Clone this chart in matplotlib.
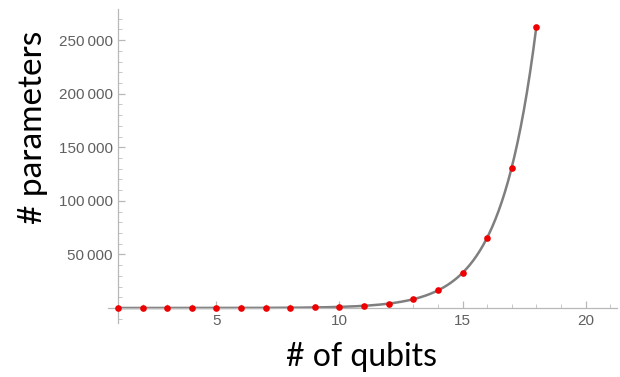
import numpy as np
import matplotlib
matplotlib.use("Agg")
import matplotlib.pyplot as plt
from matplotlib.ticker import FixedLocator, MultipleLocator, FuncFormatter

# Data
qubits = [1, 2, 3, 4, 5, 6, 7, 8, 9, 10, 11, 12, 13, 14, 15, 16, 17, 18]
params = [2, 4, 8, 16, 32, 64, 128, 256, 512, 1024, 2048, 4096, 8192,
          16384, 32768, 65536, 131072, 262144]
x_ticks = [5, 10, 15, 20]
y_ticks = [50000, 100000, 150000, 200000, 250000]

fig = plt.figure(figsize=(6.2, 3.77), dpi=100)
ax = fig.add_axes([108/620, 1-323/377, (617-108)/620, (323-9)/377])

# smooth curve through the points (geometric interpolation between data)
xs = np.linspace(qubits[0], qubits[-1], 400)
ys = np.exp(np.interp(xs, qubits, np.log(params)))
ax.plot(xs, ys, color="#7f7f7f", lw=1.8, zorder=2, solid_capstyle="round")
ax.plot(qubits, params, "o", color="#ee0000", ms=4.8, mec="none", zorder=3)

ax.set_xlim(0.59, 21.28)
ax.set_ylim(-14000, 279000)

for s in ["top", "right"]:
    ax.spines[s].set_visible(False)
ax.spines["left"].set_position(("data", 1))
ax.spines["bottom"].set_position(("data", 0))
for s in ["left", "bottom"]:
    ax.spines[s].set_color("#b8b8b8")
    ax.spines[s].set_linewidth(0.9)

ax.xaxis.set_major_locator(FixedLocator(x_ticks))
ax.xaxis.set_minor_locator(MultipleLocator(1))
ax.yaxis.set_major_locator(FixedLocator(y_ticks))
ax.yaxis.set_minor_locator(MultipleLocator(10000))
ax.yaxis.set_major_formatter(FuncFormatter(
    lambda v, p: f"{int(v):,}".replace(",", "\u2009")))

ax.tick_params(axis="both", which="major", direction="in", length=5,
               width=0.9, color="#b8b8b8", labelcolor="#606060",
               labelsize=11)
ax.tick_params(axis="both", which="minor", direction="in", length=3,
               width=0.7, color="#c8c8c8")
ax.tick_params(axis="x", which="major", pad=4)
ax.tick_params(axis="y", which="major", pad=4)
for lab in ax.get_xticklabels() + ax.get_yticklabels():
    lab.set_family(["Liberation Sans", "DejaVu Sans"])

fig.text(362/620, 1-366/377, "# of qubits", ha="center", va="baseline",
         fontsize=23, family=["Lato", "DejaVu Sans"], color="black")
fig.text(33/620, 1-127/377, "# parameters", ha="center", va="center",
         rotation=90, fontsize=24, family=["Lato", "DejaVu Sans"],
         color="black")

fig.savefig("out.png", dpi=100)
